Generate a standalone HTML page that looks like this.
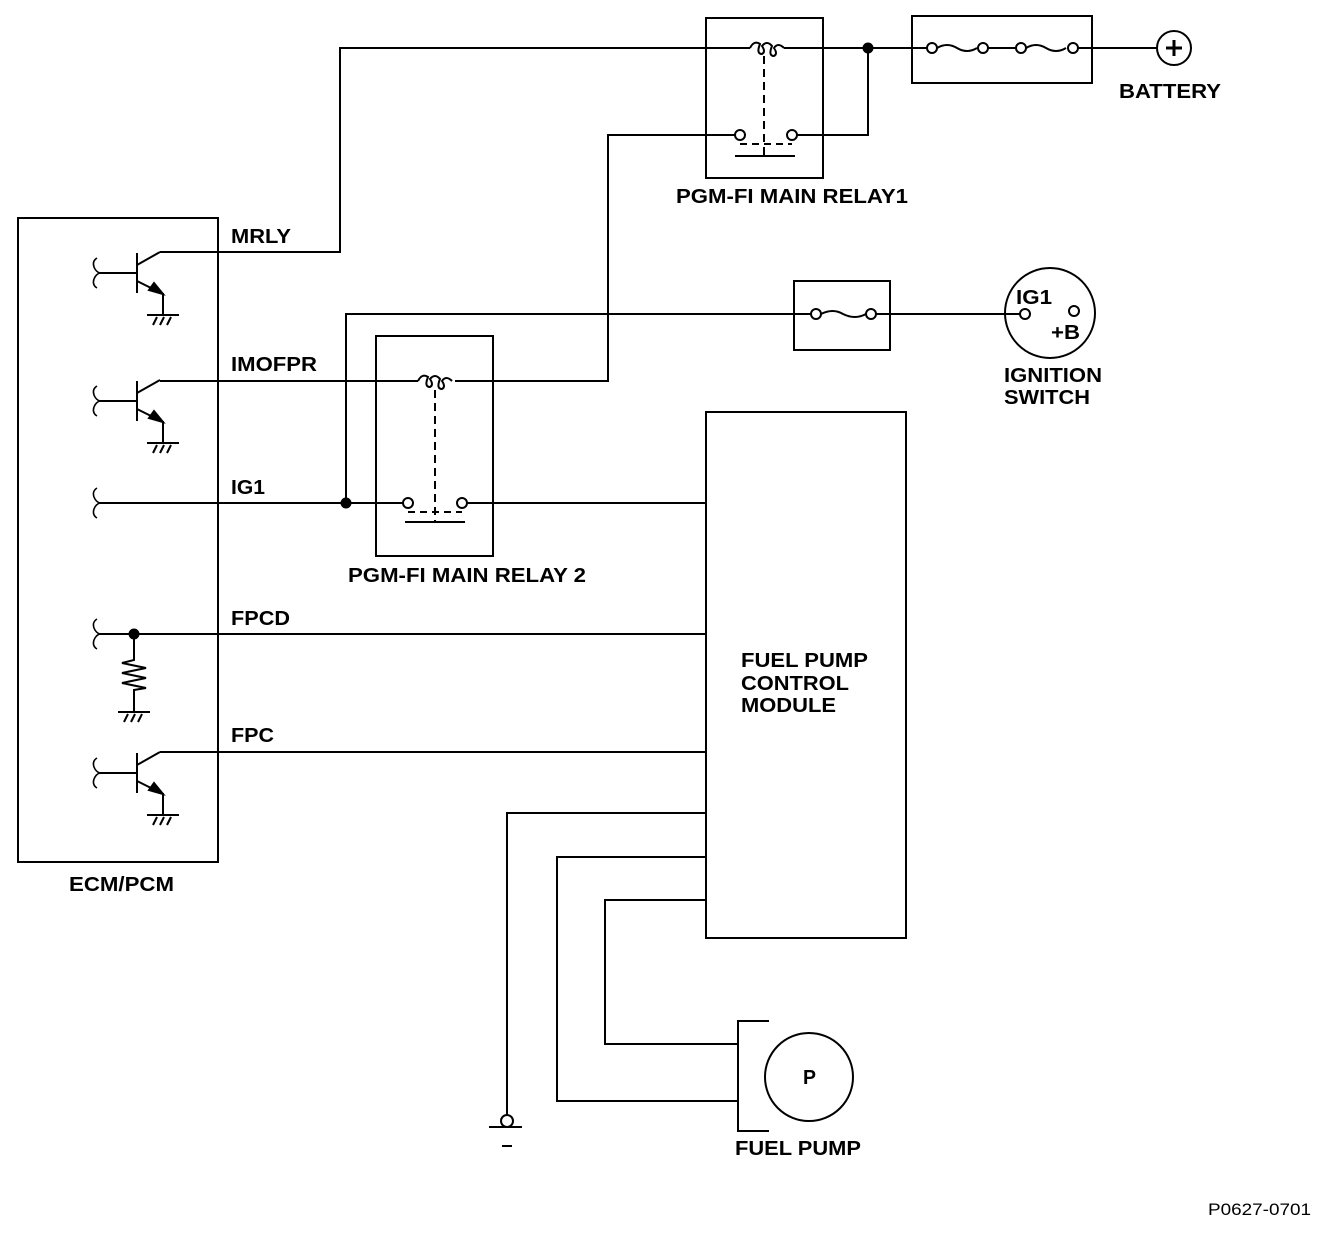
<!DOCTYPE html>
<html><head><meta charset="utf-8"><style>
html,body{margin:0;padding:0;background:#fff}
svg{display:block}
text{font-family:"Liberation Sans",Arial,sans-serif;font-weight:bold;font-size:20px;fill:#000}
</style></head><body>
<svg width="1328" height="1234" viewBox="0 0 1328 1234" xmlns="http://www.w3.org/2000/svg">
<defs>
<g id="gnd" stroke="#000" stroke-width="2" fill="none">
<line x1="-16" y1="0" x2="16" y2="0"/>
<line x1="-10" y1="10" x2="-6" y2="2"/><line x1="-3" y1="10" x2="1" y2="2"/><line x1="4" y1="10" x2="8" y2="2"/>
</g>
<g id="brk" fill="none" stroke="#000" stroke-width="1.6">
<path d="M-3,-15 Q-8,-12 -6,-6 Q-4,-1 0,0 Q-4,1 -6,6 Q-8,12 -3,15"/>
</g>
<g id="tr" stroke="#000" stroke-width="2" fill="none">
<line x1="0" y1="-20" x2="0" y2="20"/>
<line x1="-37" y1="0" x2="0" y2="0"/>
<line x1="0" y1="-8" x2="23" y2="-21"/>
<line x1="0" y1="8" x2="20" y2="18"/>
<polygon points="26,21 12,17 17,10" fill="#000"/>
<line x1="26" y1="20" x2="26" y2="42"/>
</g>
</defs>
<g stroke="#000" stroke-width="2" fill="none">
<rect x="18" y="218" width="200" height="644"/>
<rect x="706" y="18" width="117" height="160"/>
<rect x="376" y="336" width="117" height="220"/>
<rect x="912" y="16" width="180" height="67"/>
<rect x="794" y="281" width="96" height="69"/>
<rect x="706" y="412" width="200" height="526"/>
<polyline points="160,252 340,252 340,48 750,48"/>
<path d="M750,48 q4,-8 10,-4 q-4,10 2,10 q4,-2 0,-8 q5,-6 10,0 q-4,10 2,10 q4,-2 0,-8 q4,-6 10,0"/>
<line x1="784" y1="48" x2="926" y2="48"/>
<circle cx="868" cy="48" r="4.5" fill="#000"/>
<circle cx="932" cy="48" r="5"/>
<path d="M937,48 q10,-6 20,0 q10,6 20,0"/>
<circle cx="983" cy="48" r="5"/>
<line x1="988" y1="48" x2="1016" y2="48"/>
<circle cx="1021" cy="48" r="5"/>
<path d="M1026,48 q10,-6 20,0 q10,6 20,0"/>
<circle cx="1073" cy="48" r="5"/>
<line x1="1078" y1="48" x2="1157" y2="48"/>
<circle cx="1174" cy="48" r="17"/>
<line x1="1166" y1="48" x2="1182" y2="48" stroke-width="3"/>
<line x1="1174" y1="40" x2="1174" y2="56" stroke-width="3"/>
<line x1="764" y1="56" x2="764" y2="158" stroke-dasharray="8,5"/>
<line x1="740" y1="144" x2="792" y2="144" stroke-dasharray="7,5"/>
<line x1="735" y1="156" x2="795" y2="156"/>
<circle cx="740" cy="135" r="5"/>
<circle cx="792" cy="135" r="5"/>
<polyline points="797,135 868,135 868,48"/>
<polyline points="735,135 608,135 608,381 455,381"/>
<polyline points="160,381 418,381"/>
<path d="M418,381 q4,-8 10,-4 q-4,10 2,10 q4,-2 0,-8 q5,-6 10,0 q-4,10 2,10 q4,-2 0,-8 q4,-6 10,0"/>
<line x1="435" y1="390" x2="435" y2="522" stroke-dasharray="8,5"/>
<line x1="408" y1="512" x2="462" y2="512" stroke-dasharray="7,5"/>
<line x1="405" y1="522" x2="465" y2="522"/>
<circle cx="408" cy="503" r="5"/>
<circle cx="462" cy="503" r="5"/>
<line x1="100" y1="503" x2="403" y2="503"/>
<line x1="467" y1="503" x2="706" y2="503"/>
<circle cx="346" cy="503" r="4.5" fill="#000"/>
<polyline points="346,503 346,314 811,314"/>
<circle cx="816" cy="314" r="5"/>
<path d="M821,314 q12,-6 22,0 q12,6 23,0"/>
<circle cx="871" cy="314" r="5"/>
<line x1="876" y1="314" x2="1020" y2="314"/>
<circle cx="1050" cy="313" r="45"/>
<circle cx="1025" cy="314" r="5"/>
<circle cx="1074" cy="311" r="5"/>
<line x1="100" y1="634" x2="706" y2="634"/>
<circle cx="134" cy="634" r="4.5" fill="#000"/>
<polyline points="134,634 134,660 122,663 146,668 122,673 146,678 122,683 146,688 134,690 134,712"/>
<line x1="160" y1="752" x2="706" y2="752"/>
<polyline points="706,813 507,813 507,1115"/>
<circle cx="507" cy="1121" r="6"/>
<line x1="489" y1="1127" x2="522" y2="1127"/>
<line x1="502" y1="1146" x2="512" y2="1146"/>
<polyline points="706,857 557,857 557,1101 738,1101"/>
<polyline points="706,900 605,900 605,1044 738,1044"/>
<polyline points="769,1021 738,1021 738,1131 769,1131"/>
<circle cx="809" cy="1077" r="44"/>
</g>
<use href="#tr" x="137" y="273"/>
<use href="#gnd" x="163" y="315"/>
<use href="#tr" x="137" y="401"/>
<use href="#gnd" x="163" y="443"/>
<use href="#tr" x="137" y="773"/>
<use href="#gnd" x="163" y="815"/>
<use href="#gnd" x="134" y="712"/>
<use href="#brk" x="100" y="273"/>
<use href="#brk" x="100" y="401"/>
<use href="#brk" x="100" y="503"/>
<use href="#brk" x="100" y="634"/>
<use href="#brk" x="100" y="773"/>
<text x="231" y="243" textLength="60" lengthAdjust="spacingAndGlyphs">MRLY</text>
<text x="231" y="371" textLength="86" lengthAdjust="spacingAndGlyphs">IMOFPR</text>
<text x="231" y="494" textLength="34" lengthAdjust="spacingAndGlyphs">IG1</text>
<text x="231" y="625" textLength="59" lengthAdjust="spacingAndGlyphs">FPCD</text>
<text x="231" y="742" textLength="43" lengthAdjust="spacingAndGlyphs">FPC</text>
<text x="69" y="891" textLength="105" lengthAdjust="spacingAndGlyphs">ECM/PCM</text>
<text x="676" y="203" textLength="232" lengthAdjust="spacingAndGlyphs">PGM-FI MAIN RELAY1</text>
<text x="348" y="582" textLength="238" lengthAdjust="spacingAndGlyphs">PGM-FI MAIN RELAY 2</text>
<text x="1119" y="98" textLength="102" lengthAdjust="spacingAndGlyphs">BATTERY</text>
<text x="1016" y="304" textLength="36" lengthAdjust="spacingAndGlyphs">IG1</text>
<text x="1051" y="339" textLength="29" lengthAdjust="spacingAndGlyphs">+B</text>
<text x="1004" y="382" textLength="98" lengthAdjust="spacingAndGlyphs">IGNITION</text>
<text x="1004" y="404" textLength="86" lengthAdjust="spacingAndGlyphs">SWITCH</text>
<text x="741" y="667" textLength="127" lengthAdjust="spacingAndGlyphs">FUEL PUMP</text>
<text x="741" y="690" textLength="108" lengthAdjust="spacingAndGlyphs">CONTROL</text>
<text x="741" y="712" textLength="95" lengthAdjust="spacingAndGlyphs">MODULE</text>
<text x="803" y="1084" textLength="13" lengthAdjust="spacingAndGlyphs">P</text>
<text x="735" y="1155" textLength="126" lengthAdjust="spacingAndGlyphs">FUEL PUMP</text>
<text x="1208" y="1215" style="font-weight:normal;font-size:17px" textLength="103" lengthAdjust="spacingAndGlyphs">P0627-0701</text>
</svg>
</body></html>
